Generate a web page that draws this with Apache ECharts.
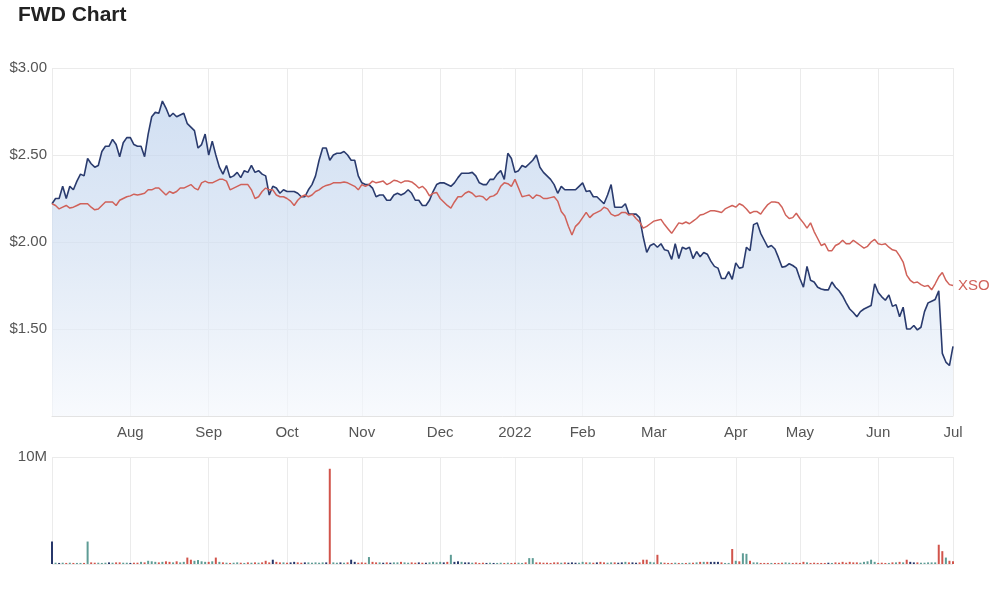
<!DOCTYPE html>
<html>
<head>
<meta charset="utf-8">
<title>FWD Chart</title>
<script src="https://cdn.jsdelivr.net/npm/echarts@6/dist/echarts.min.js"></script>
<style>
  html, body { margin: 0; padding: 0; background: #fff; }
  #chart { width: 1000px; height: 589px; }
</style>
</head>
<body>
<div id="chart"></div>
<script>
// trading calendar (ASX), first and last session shown
const startDate = '2021-07-01';
const endDate = '2022-07-01';
const holidays = ['2021-12-27', '2021-12-28', '2022-01-03', '2022-01-26',
  '2022-04-15', '2022-04-18', '2022-04-25', '2022-06-13'];
const monthNames = ['Jan', 'Feb', 'Mar', 'Apr', 'May', 'Jun', 'Jul', 'Aug', 'Sep', 'Oct', 'Nov', 'Dec'];

// FWD close, $
const fwdPrice = [
  2.22, 2.25, 2.25, 2.32, 2.25, 2.32, 2.30, 2.35, 2.39, 2.38,
  2.48, 2.45, 2.43, 2.44, 2.52, 2.55, 2.55, 2.59, 2.56, 2.49,
  2.57, 2.60, 2.60, 2.56, 2.55, 2.55, 2.49, 2.62, 2.72, 2.745,
  2.74, 2.81, 2.77, 2.72, 2.74, 2.72, 2.73, 2.74, 2.68, 2.66,
  2.64, 2.54, 2.56, 2.62, 2.50, 2.58, 2.50, 2.43, 2.39, 2.44,
  2.37, 2.38, 2.40, 2.37, 2.41, 2.40, 2.44, 2.40, 2.41, 2.39,
  2.38, 2.27, 2.32, 2.31, 2.28, 2.30, 2.29, 2.29, 2.29, 2.28,
  2.26, 2.26, 2.30, 2.33, 2.38, 2.47, 2.54, 2.54, 2.47, 2.50,
  2.51, 2.51, 2.52, 2.50, 2.47, 2.47, 2.38, 2.34, 2.33, 2.33,
  2.31, 2.26, 2.27, 2.27, 2.24, 2.24, 2.27, 2.28, 2.27, 2.28,
  2.30, 2.28, 2.24, 2.24, 2.21, 2.21, 2.24, 2.29, 2.33, 2.34,
  2.34, 2.33, 2.32, 2.34, 2.37, 2.395, 2.395, 2.395, 2.40, 2.38,
  2.34, 2.33, 2.33, 2.36, 2.36, 2.39, 2.41, 2.36, 2.51, 2.48,
  2.40, 2.41, 2.44, 2.43, 2.45, 2.47, 2.50, 2.43, 2.40, 2.38,
  2.36, 2.33, 2.28, 2.32, 2.30, 2.30, 2.30, 2.30, 2.32, 2.34,
  2.29, 2.295, 2.26, 2.26, 2.24, 2.22, 2.27, 2.33, 2.20, 2.20,
  2.20, 2.22, 2.16, 2.16, 2.16, 2.14, 2.03, 1.94, 1.98, 1.99,
  1.97, 1.99, 1.955, 1.95, 1.90, 1.99, 1.905, 1.97, 1.96, 1.97,
  1.905, 1.945, 1.915, 1.94, 1.93, 1.89, 1.86, 1.85, 1.79, 1.79,
  1.83, 1.785, 1.88, 1.85, 1.855, 1.97, 1.95, 2.10, 2.11, 2.05,
  2.01, 1.97, 1.98, 1.96, 1.91, 1.855, 1.86, 1.875, 1.865, 1.85,
  1.79, 1.74, 1.86, 1.78, 1.77, 1.74, 1.73, 1.725, 1.725, 1.77,
  1.74, 1.72, 1.69, 1.65, 1.615, 1.595, 1.57, 1.60, 1.615, 1.625,
  1.635, 1.76, 1.71, 1.685, 1.665, 1.695, 1.63, 1.64, 1.57, 1.625,
  1.50, 1.50, 1.52, 1.495, 1.51, 1.60, 1.65, 1.66, 1.67, 1.72,
  1.36, 1.31, 1.29, 1.40
];

// XSO index rebased to FWD's first close
const xsoPrice = [
  2.22, 2.21, 2.19, 2.20, 2.21, 2.195, 2.20, 2.21, 2.22, 2.22,
  2.22, 2.20, 2.185, 2.19, 2.21, 2.23, 2.23, 2.23, 2.21, 2.24,
  2.25, 2.26, 2.265, 2.275, 2.27, 2.275, 2.28, 2.30, 2.30, 2.31,
  2.31, 2.29, 2.27, 2.29, 2.28, 2.29, 2.31, 2.31, 2.32, 2.33,
  2.31, 2.30, 2.34, 2.35, 2.34, 2.34, 2.35, 2.36, 2.36, 2.35,
  2.30, 2.31, 2.32, 2.33, 2.33, 2.33, 2.30, 2.25, 2.26, 2.29,
  2.31, 2.30, 2.30, 2.27, 2.26, 2.26, 2.25, 2.235, 2.21, 2.24,
  2.26, 2.27, 2.26, 2.27, 2.29, 2.30, 2.315, 2.325, 2.33, 2.34,
  2.34, 2.34, 2.345, 2.34, 2.33, 2.32, 2.30, 2.33, 2.32, 2.33,
  2.35, 2.34, 2.345, 2.35, 2.33, 2.34, 2.355, 2.35, 2.34, 2.35,
  2.35, 2.345, 2.33, 2.31, 2.32, 2.30, 2.265, 2.28, 2.285, 2.25,
  2.23, 2.21, 2.195, 2.23, 2.26, 2.26, 2.28, 2.29, 2.28, 2.26,
  2.265, 2.26, 2.24, 2.26, 2.265, 2.28, 2.32, 2.34, 2.335, 2.32,
  2.36, 2.31, 2.26, 2.265, 2.27, 2.25, 2.27, 2.265, 2.25, 2.25,
  2.255, 2.26, 2.235, 2.175, 2.15, 2.09, 2.04, 2.09, 2.11, 2.14,
  2.17, 2.14, 2.16, 2.17, 2.18, 2.20, 2.19, 2.16, 2.15, 2.155,
  2.17, 2.17, 2.155, 2.16, 2.135, 2.115, 2.08, 2.09, 2.105, 2.12,
  2.125, 2.13, 2.10, 2.075, 2.05, 2.08, 2.11, 2.105, 2.115, 2.105,
  2.12, 2.135, 2.155, 2.16, 2.17, 2.18, 2.18, 2.175, 2.17, 2.19,
  2.20, 2.21, 2.20, 2.22, 2.21, 2.19, 2.165, 2.175, 2.175, 2.16,
  2.19, 2.215, 2.23, 2.23, 2.225, 2.20, 2.155, 2.135, 2.14, 2.165,
  2.135, 2.11, 2.08, 2.11, 2.06, 2.02, 1.98, 1.99, 1.95, 1.95,
  1.98, 1.99, 2.01, 1.99, 1.99, 2.01, 1.995, 1.98, 1.965, 1.975,
  2.00, 2.015, 1.99, 1.985, 1.99, 1.97, 1.955, 1.95, 1.92, 1.885,
  1.81, 1.78, 1.765, 1.77, 1.755, 1.745, 1.75, 1.725, 1.76, 1.80,
  1.825, 1.78, 1.755, 1.75
];

// FWD volume, millions of shares
const volumeM = [
  2.1, .12, .1, .12, .1, .12, .1, .1, .1, .1,
  2.1, .15, .12, .12, .1, .12, .15, .12, .15, .15,
  .12, .12, .1, .12, .12, .2, .15, .3, .25, .2,
  .15, .2, .25, .2, .15, .25, .15, .2, .6, .4,
  .3, .37, .25, .2, .2, .25, .6, .2, .15, .12,
  .1, .12, .15, .12, .1, .15, .12, .15, .12, .15,
  .3, .15, .4, .2, .15, .15, .12, .15, .2, .15,
  .12, .15, .15, .12, .15, .12, .15, .15, 8.9, .15,
  .12, .15, .12, .15, .4, .2, .12, .15, .12, .65,
  .2, .15, .15, .12, .15, .12, .15, .15, .2, .15,
  .12, .15, .12, .15, .12, .12, .15, .2, .15, .2,
  .15, .2, .86, .2, .25, .2, .15, .15, .12, .15,
  .1, .12, .1, .12, .1, .1, .12, .1, .12, .1,
  .12, .12, .1, .15, .55, .55, .15, .15, .12, .12,
  .1, .15, .15, .12, .15, .12, .15, .12, .12, .2,
  .15, .15, .12, .15, .2, .15, .12, .15, .15, .12,
  .15, .2, .15, .15, .12, .15, .4, .4, .2, .15,
  .86, .15, .12, .1, .1, .12, .1, .1, .1, .12,
  .12, .15, .2, .2, .2, .2, .2, .2, .15, .1,
  .1, 1.4, .3, .25, 1.0, .95, .3, .15, .15, .1,
  .1, .1, .1, .1, .1, .12, .15, .12, .1, .12,
  .1, .2, .15, .1, .12, .1, .1, .1, .12, .1,
  .15, .12, .2, .12, .2, .15, .15, .12, .2, .25,
  .4, .2, .1, .12, .1, .1, .15, .15, .2, .15,
  .4, .2, .15, .15, .12, .12, .15, .15, .15, 1.8,
  1.2, .6, .3, .25
];

// volume bar colour: u up, d down, n flat
const volumeDir = {
  0: 'n', 10: 'u', 25: 'u', 27: 'u', 38: 'd', 39: 'd', 40: 'u', 41: 'u', 42: 'u',
  46: 'd', 47: 'u', 60: 'd', 62: 'n', 63: 'd', 78: 'd', 84: 'n', 89: 'u',
  112: 'u', 113: 'n', 114: 'n', 134: 'u', 135: 'u', 136: 'd', 137: 'd',
  166: 'd', 167: 'd', 169: 'u', 170: 'd', 185: 'n', 186: 'n', 187: 'n',
  189: 'u', 191: 'd', 192: 'u', 193: 'd', 194: 'u', 195: 'u', 196: 'd',
  197: 'u', 198: 'u', 211: 'd', 229: 'u', 230: 'u', 231: 'u', 240: 'd', 242: 'n',
  249: 'd', 250: 'd', 251: 'u', 252: 'd', 253: 'd'
};

const colors = {
  fwd: '#2a3b6e',
  xso: '#d0625a',
  up: '#5e9c95',
  down: '#d1544b',
  flat: '#27376a',
  grid: '#ebebeb',
  label: '#555'
};

const buildTradingDays = () => {
  const days = [];
  const d = new Date(startDate + 'T00:00:00Z');
  const end = new Date(endDate + 'T00:00:00Z');
  while (d <= end) {
    const wd = d.getUTCDay();
    const iso = d.toISOString().slice(0, 10);
    if (wd !== 0 && wd !== 6 && !holidays.includes(iso)) days.push(iso);
    d.setUTCDate(d.getUTCDate() + 1);
  }
  return days;
};

const dates = buildTradingDays();

const isMonthStart = (i) => i > 0 && dates[i].slice(5, 7) !== dates[i - 1].slice(5, 7);
const monthLabel = (v) => {
  const m = +v.slice(5, 7);
  return m === 1 ? v.slice(0, 4) : monthNames[m - 1];
};

const barColor = (i) => {
  const dir = volumeDir[i] ||
    (fwdPrice[i] === fwdPrice[i - 1] ? 'n' : fwdPrice[i] > fwdPrice[i - 1] ? 'u' : 'd');
  return dir === 'u' ? colors.up : dir === 'd' ? colors.down : colors.flat;
};

const fontFamily = '"Liberation Sans", Arial, sans-serif';

const chart = echarts.init(document.getElementById('chart'));

const option = {
  animation: false,
  textStyle: { fontFamily },
  title: {
    text: 'FWD Chart',
    left: 13,
    top: 0,
    textStyle: { fontSize: 21, fontWeight: 'bold', color: '#222', fontFamily }
  },
  grid: [
    { left: 52, right: 47, top: 68, height: 348 },
    { left: 52, right: 47, top: 457, height: 107 }
  ],
  xAxis: [
    {
      type: 'category',
      gridIndex: 0,
      data: dates,
      boundaryGap: false,
      axisLine: { lineStyle: { color: '#e3e3e3' } },
      axisTick: { show: false },
      axisLabel: {
        interval: (i) => isMonthStart(i),
        formatter: monthLabel,
        color: colors.label,
        fontSize: 15,
        margin: 9
      },
      splitLine: {
        show: true,
        interval: (i) => i === 0 || isMonthStart(i),
        lineStyle: { color: colors.grid }
      }
    },
    {
      type: 'category',
      gridIndex: 1,
      data: dates,
      boundaryGap: false,
      axisLine: { show: false },
      axisTick: { show: false },
      axisLabel: { show: false },
      splitLine: {
        show: true,
        interval: (i) => i === 0 || isMonthStart(i),
        lineStyle: { color: colors.grid }
      }
    }
  ],
  yAxis: [
    {
      type: 'value',
      gridIndex: 0,
      min: 1,
      max: 3,
      interval: 0.5,
      axisLine: { show: false },
      axisTick: { show: false },
      axisLabel: {
        showMinLabel: false,
        formatter: (v) => '$' + v.toFixed(2),
        color: colors.label,
        fontSize: 15,
        margin: 5
      },
      splitLine: { lineStyle: { color: colors.grid } }
    },
    {
      type: 'value',
      gridIndex: 1,
      min: 0,
      max: 10,
      interval: 10,
      axisLine: { show: false },
      axisTick: { show: false },
      axisLabel: {
        formatter: (v) => (v === 10 ? '10M' : ''),
        color: colors.label,
        fontSize: 15,
        margin: 5
      },
      splitLine: { lineStyle: { color: colors.grid } }
    }
  ],
  series: [
    {
      name: 'XSO',
      type: 'line',
      xAxisIndex: 0,
      yAxisIndex: 0,
      data: xsoPrice,
      showSymbol: false,
      lineStyle: { color: colors.xso, width: 1.5 },
      itemStyle: { color: colors.xso },
      endLabel: {
        show: true,
        formatter: 'XSO',
        color: colors.xso,
        fontSize: 15,
        distance: 5
      },
      z: 3
    },
    {
      name: 'FWD',
      type: 'line',
      xAxisIndex: 0,
      yAxisIndex: 0,
      data: fwdPrice,
      showSymbol: false,
      lineStyle: { color: colors.fwd, width: 1.6 },
      itemStyle: { color: colors.fwd },
      areaStyle: {
        origin: 'start',
        color: new echarts.graphic.LinearGradient(0, 0, 0, 1, [
          { offset: 0, color: '#bed2ed' },
          { offset: 0.5, color: '#d4e1f2' },
          { offset: 1, color: '#f4f7fc' }
        ])
      },
      z: 2
    },
    {
      name: 'Volume',
      type: 'bar',
      xAxisIndex: 1,
      yAxisIndex: 1,
      barWidth: 2,
      data: volumeM.map((v, i) => ({ value: v, itemStyle: { color: barColor(i) } }))
    }
  ]
};

chart.setOption(option);
</script>
</body>
</html>
